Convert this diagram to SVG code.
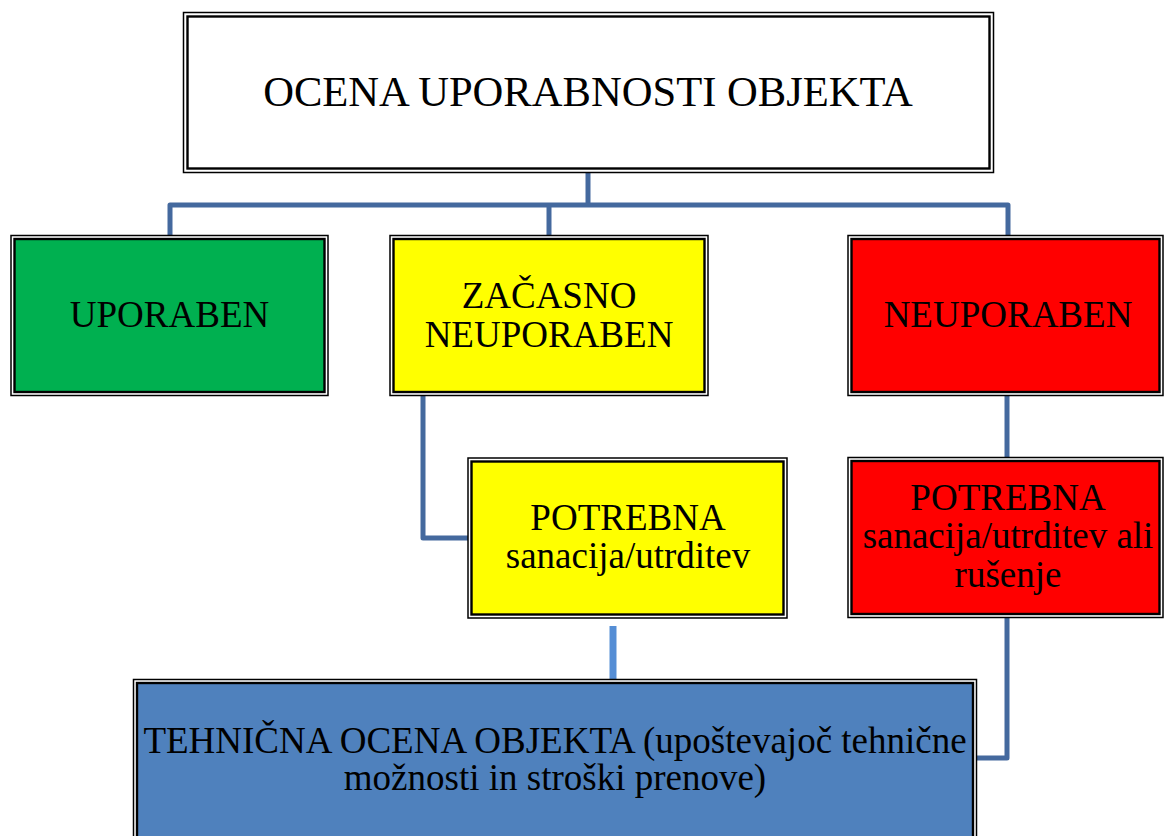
<svg xmlns="http://www.w3.org/2000/svg" width="1165" height="836" viewBox="0 0 1165 836">
<style>
.outer{fill:#ffffff;stroke:#000000;stroke-width:1.5}
.inner{stroke:#000000;stroke-width:2.4}
.t{font-family:"Liberation Serif","Times New Roman",serif;font-size:37px;fill:#000000;text-anchor:middle}
.conn{fill:none;stroke:#44699E;stroke-width:5;stroke-linejoin:round;stroke-linecap:butt}
</style>
<rect width="1165" height="836" fill="#ffffff"/>
<g id="connectors">
<path class="conn" d="M588 172 V205"/>
<path class="conn" d="M170 235 V205 H1008 V235"/>
<path class="conn" d="M549 205 V235"/>
<path class="conn" d="M1007 395 V457"/>
<path class="conn" d="M1007 618 V758 H977"/>
<path class="conn" d="M423 395 V538 H468"/>
<path fill="none" stroke="#558ED5" stroke-width="7" d="M613 626 V686"/>
</g>
<g id="node-top">
<rect class="outer" x="183.5" y="12.5" width="810" height="160"/>
<rect class="inner" x="187.5" y="16.5" width="802" height="152" fill="#ffffff"/>
<text class="t" x="588" y="106" style="font-size:42.6px">OCENA UPORABNOSTI OBJEKTA</text>
</g>
<g id="node-uporaben">
<rect class="outer" x="11" y="235.5" width="317" height="160"/>
<rect class="inner" x="14.5" y="239" width="310" height="153" fill="#00B050"/>
<text class="t" x="169.5" y="327">UPORABEN</text>
</g>
<g id="node-zacasno">
<rect class="outer" x="390" y="235.5" width="318" height="160"/>
<rect class="inner" x="393.5" y="239" width="311" height="153" fill="#FFFF00"/>
<text class="t" x="549" y="308">ZAČASNO</text>
<text class="t" x="549" y="347">NEUPORABEN</text>
</g>
<g id="node-neuporaben">
<rect class="outer" x="848" y="235.5" width="315" height="160"/>
<rect class="inner" x="851.5" y="239" width="308" height="153" fill="#FF0000"/>
<text class="t" x="1008" y="327">NEUPORABEN</text>
</g>
<g id="node-potrebna-yellow">
<rect class="outer" x="468" y="458" width="319" height="160"/>
<rect class="inner" x="471.5" y="461.5" width="312" height="153" fill="#FFFF00"/>
<text class="t" x="628" y="530">POTREBNA</text>
<text class="t" x="628" y="568">sanacija/utrditev</text>
</g>
<g id="node-potrebna-red">
<rect class="outer" x="848" y="457.5" width="315" height="160"/>
<rect class="inner" x="851.5" y="461" width="308" height="153" fill="#FF0000"/>
<text class="t" x="1008" y="510">POTREBNA</text>
<text class="t" x="1008" y="548">sanacija/utrditev ali</text>
<text class="t" x="1008" y="587">rušenje</text>
</g>
<g id="node-tehnicna">
<rect class="outer" x="133.5" y="679.5" width="843" height="180"/>
<rect class="inner" x="137" y="683" width="836" height="173" fill="#4F81BD"/>
<text class="t" x="555" y="753">TEHNIČNA OCENA OBJEKTA (upoštevajoč tehnične</text>
<text class="t" x="555" y="790">možnosti in stroški prenove)</text>
</g>
</svg>
